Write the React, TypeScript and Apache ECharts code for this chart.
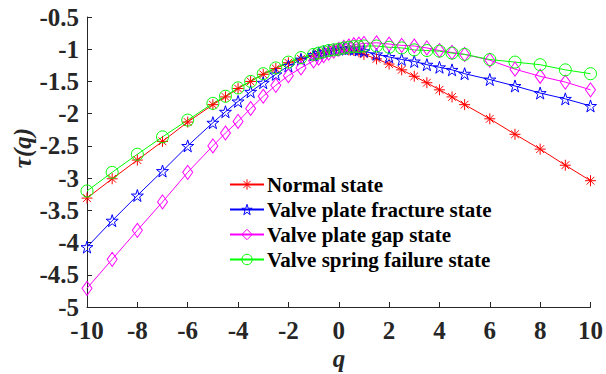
import React, { useEffect, useRef } from "react";
import * as echarts from "echarts";

const qValues = [-10, -9, -8, -7, -6, -5, -4.5, -4, -3.5, -3, -2.5, -2, -1.5, -1, -0.8, -0.6, -0.4, -0.2, 0, 0.2, 0.4, 0.6, 0.8, 1, 1.5, 2, 2.5, 3, 3.5, 4, 4.5, 5, 6, 7, 8, 9, 10];

const normalState = [-3.31, -3.01, -2.72, -2.43, -2.13, -1.86, -1.74, -1.61, -1.5, -1.39, -1.3, -1.21, -1.15, -1.1, -1.07, -1.05, -1.03, -1.01, -1.0, -1.0, -1.01, -1.02, -1.04, -1.08, -1.15, -1.23, -1.32, -1.42, -1.52, -1.63, -1.74, -1.86, -2.08, -2.32, -2.55, -2.8, -3.04];
const fractureState = [-4.07, -3.66, -3.27, -2.89, -2.5, -2.14, -1.97, -1.81, -1.66, -1.52, -1.39, -1.26, -1.16, -1.09, -1.06, -1.04, -1.02, -1.01, -1.0, -0.99, -0.99, -1.0, -1.01, -1.03, -1.08, -1.12, -1.16, -1.19, -1.24, -1.28, -1.32, -1.38, -1.47, -1.57, -1.68, -1.77, -1.88];
const gapState = [-4.71, -4.26, -3.81, -3.37, -2.91, -2.5, -2.3, -2.12, -1.92, -1.73, -1.56, -1.41, -1.29, -1.18, -1.14, -1.1, -1.06, -1.03, -1.0, -0.97, -0.95, -0.93, -0.92, -0.91, -0.9, -0.92, -0.94, -0.95, -0.98, -1.02, -1.05, -1.08, -1.17, -1.31, -1.42, -1.51, -1.63];
const springState = [-3.2, -2.91, -2.63, -2.36, -2.1, -1.84, -1.73, -1.6, -1.5, -1.38, -1.29, -1.2, -1.13, -1.08, -1.06, -1.04, -1.02, -1.01, -1.0, -0.98, -0.97, -0.96, -0.96, -0.95, -0.95, -0.97, -0.98, -1.01, -1.02, -1.03, -1.06, -1.08, -1.16, -1.2, -1.24, -1.32, -1.38];

const seriesNames = ["Normal state", "Valve plate fracture state", "Valve plate gap state", "Valve spring failure state"];
const seriesColors = ["#ff0000", "#0000ff", "#ff00ff", "#00ff00"];

const FONT = "Liberation Serif";
const AXIS_FONT = "serif";

const asterisk = "path://M10,0L10,20M0,10L20,10M3,3L17,17M3,17L17,3";
const star = "path://M100,0L122.45,69.1L195.1,69.1L136.3,111.8L158.8,180.9L100,138.2L41.2,180.9L63.7,111.8L4.9,69.1L77.55,69.1Z";
const diamond = "path://M5,0L10,7L5,14L0,7Z";

export default function App() {
  const ref = useRef<HTMLDivElement>(null);
  useEffect(() => {
    if (!ref.current) return;
    const chart = echarts.init(ref.current, null, { renderer: "svg" });
    const allData = [normalState, fractureState, gapState, springState];
    const symbols = [asterisk, star, diamond, "circle"];
    const sizes: any[] = [[11, 11], [12, 12], [10, 14], [12, 12]];
    const labelStyle = { color: "#262626", fontFamily: AXIS_FONT, fontWeight: "bold", fontSize: 25 };
    chart.setOption({
      animation: false,
      backgroundColor: "#ffffff",
      textStyle: { fontFamily: AXIS_FONT },
      grid: { left: 87, right: 15, top: 17, bottom: 67, containLabel: false },
      xAxis: {
        type: "value",
        min: -10,
        max: 10,
        interval: 2,
        axisLine: { show: true, onZero: false, lineStyle: { color: "#262626", width: 1 } },
        axisTick: { show: true, inside: true, length: 5, lineStyle: { color: "#262626" } },
        splitLine: { show: false },
        axisLabel: { margin: 11, ...labelStyle },
      },
      yAxis: {
        type: "value",
        min: -5,
        max: -0.5,
        interval: 0.5,
        axisLine: { show: true, onZero: false, lineStyle: { color: "#262626", width: 1 } },
        axisTick: { show: true, inside: true, length: 5, lineStyle: { color: "#262626" } },
        splitLine: { show: false },
        axisLabel: { margin: 8, ...labelStyle },
      },
      legend: {
        orient: "vertical",
        left: 229,
        top: 174,
        padding: 0,
        itemWidth: 34,
        itemHeight: 13,
        itemGap: 4,
        selectedMode: false,
        itemStyle: { color: "rgba(255,255,255,0)", borderWidth: 1 },
        textStyle: { color: "#000", fontFamily: AXIS_FONT, fontWeight: "bold", fontSize: 21, padding: [0, 0, 0, -2] },
        data: seriesNames,
      },
      graphic: [
        {
          type: "text",
          x: 22,
          y: 148,
          rotation: Math.PI / 2,
          style: {
            text: "τ(q)",
            fill: "#262626",
            fontFamily: FONT,
            fontStyle: "italic",
            fontWeight: "bold",
            fontSize: 25,
            textAlign: "center",
            textVerticalAlign: "middle",
          },
        },
        {
          type: "text",
          x: 339,
          y: 358,
          style: {
            text: "q",
            fill: "#262626",
            fontFamily: FONT,
            fontStyle: "italic",
            fontWeight: "bold",
            fontSize: 25,
            textAlign: "center",
            textVerticalAlign: "middle",
          },
        },
      ],
      series: allData.map((vals, i) => ({
        name: seriesNames[i],
        type: "line",
        data: qValues.map((q, j) => [q, vals[j]]),
        symbol: symbols[i],
        symbolSize: sizes[i],
        showAllSymbol: true,
        lineStyle: { color: seriesColors[i], width: 1 },
        itemStyle: { color: "rgba(255,255,255,0)", borderColor: seriesColors[i], borderWidth: 1 },
        emphasis: { disabled: true },
      })),
    });
    return () => chart.dispose();
  }, []);
  return <div ref={ref} style={{ position: "fixed", left: 0, top: 0, width: 606, height: 374 }} />;
}
